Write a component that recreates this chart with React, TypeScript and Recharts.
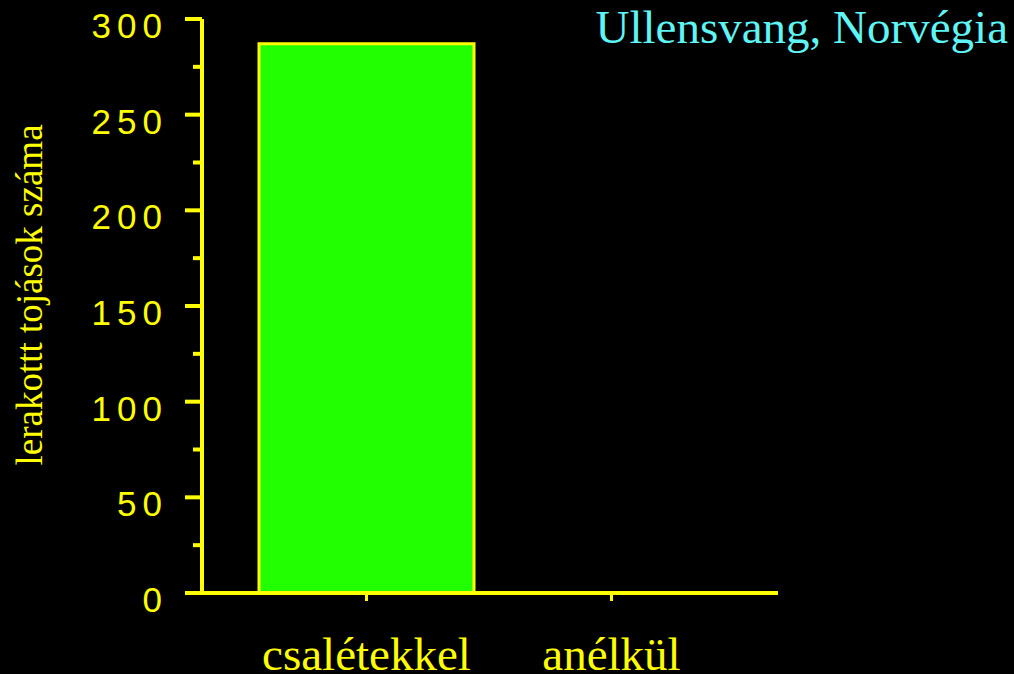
import { BarChart, Bar, XAxis, YAxis, Label } from 'recharts';

const categories = ['csalétekkel', 'anélkül'];
const eggCounts = [287, 0];
const yTicks = [0, 25, 50, 75, 100, 125, 150, 175, 200, 225, 250, 275, 300];
const title = 'Ullensvang, Norvégia';
const yLabel = 'lerakottt tojások száma';

const YELLOW = '#ffff00';
const data = categories.map((name, i) => ({ name, value: eggCounts[i] }));

// major ticks (every 50) get a label and a long line, minor ones a short line
const YTick = (props: any) => {
  const { x, y, payload } = props;
  const major = payload.value % 50 === 0;
  return (
    <g>
      <line x1={x - (major ? 17 : 9)} x2={x} y1={y} y2={y} stroke={YELLOW} strokeWidth={4} />
      {major && (
        <text
          x={x - 34}
          y={y + 19}
          textAnchor="end"
          fill={YELLOW}
          fontFamily="'Liberation Sans', Arial, sans-serif"
          fontSize={35}
          letterSpacing={6}
        >
          {payload.value}
        </text>
      )}
    </g>
  );
};

const XTick = (props: any) => {
  const { x, y, payload } = props;
  return (
    <text
      x={x}
      y={y + 69}
      textAnchor="middle"
      fill={YELLOW}
      fontFamily="'Liberation Serif', 'Times New Roman', serif"
      fontSize={47}
    >
      {payload.value}
    </text>
  );
};

export default function App() {
  return (
    <div style={{ position: 'absolute', left: 0, top: 0, width: 1014, height: 674, background: '#000' }}>
      <div
        style={{
          position: 'absolute',
          right: 6,
          top: 4,
          color: '#5ff5f5',
          fontFamily: "'Liberation Serif', 'Times New Roman', serif",
          fontSize: 47,
          lineHeight: '47px',
          whiteSpace: 'nowrap',
        }}
      >
        {title}
      </div>
      <BarChart width={1014} height={674} data={data} margin={{ top: 19, right: 236, bottom: 51, left: 0 }}>
        <XAxis
          dataKey="name"
          height={30}
          padding={{ left: 42, right: 44 }}
          axisLine={{ stroke: YELLOW, strokeWidth: 4 }}
          tickLine={{ stroke: YELLOW, strokeWidth: 3 }}
          tickSize={8}
          tickMargin={0}
          tick={<XTick />}
          interval={0}
        />
        <YAxis
          width={202}
          domain={[0, 300]}
          ticks={yTicks}
          interval={0}
          axisLine={{ stroke: YELLOW, strokeWidth: 4 }}
          tickLine={false}
          tickSize={0}
          tickMargin={0}
          tick={<YTick />}
        >
          <Label
            content={({ viewBox }: any) => {
              const cx = viewBox.x + 29;
              const cy = viewBox.y + viewBox.height / 2 - 11;
              return (
                <text
                  x={cx}
                  y={cy}
                  transform={`rotate(-90, ${cx}, ${cy})`}
                  textAnchor="middle"
                  dominantBaseline="central"
                  fill={YELLOW}
                  fontFamily="'Liberation Serif', 'Times New Roman', serif"
                  fontSize={37}
                >
                  {yLabel}
                </text>
              );
            }}
          />
        </YAxis>
        <Bar dataKey="value" fill="#22ff00" stroke={YELLOW} strokeWidth={3} barSize={215} isAnimationActive={false} />
      </BarChart>
    </div>
  );
}
